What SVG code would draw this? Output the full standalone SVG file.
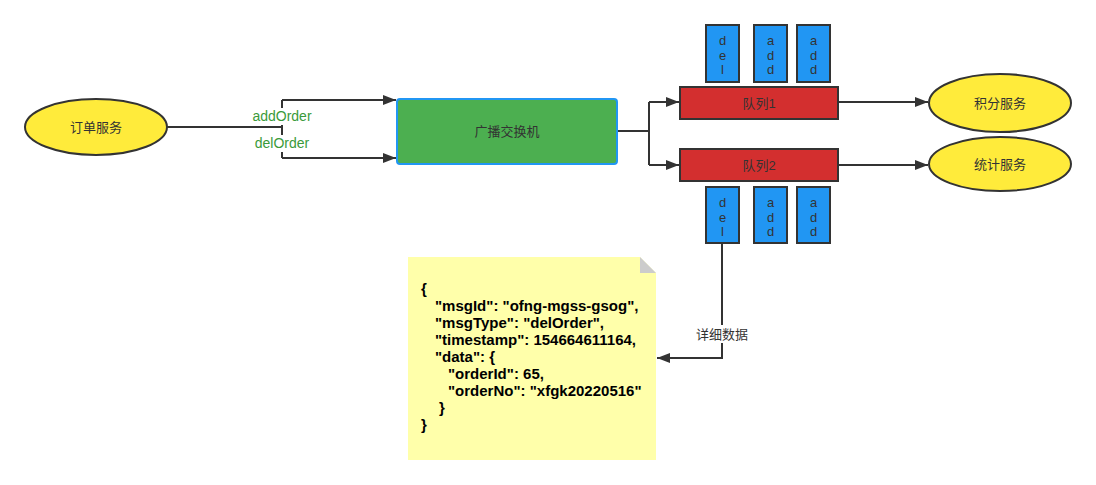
<svg xmlns="http://www.w3.org/2000/svg" width="1096" height="485" viewBox="0 0 1096 485">
<style>
.ell{fill:#ffeb3b;stroke:#333;stroke-width:2}
.q{fill:#d32f2f;stroke:#333;stroke-width:2}
.b{fill:#2196f3;stroke:#333;stroke-width:2}
.ln{fill:none;stroke:#333;stroke-width:2}
.t{font-family:"Liberation Sans","Noto Sans CJK SC",sans-serif;font-size:13px;fill:#333;text-anchor:middle;dominant-baseline:central}
.v{font-family:"Liberation Sans",sans-serif;font-size:13px;fill:#333;text-anchor:middle;dominant-baseline:central}
.g{font-family:"Liberation Sans",sans-serif;font-size:14px;fill:#3a9a3a;text-anchor:middle;dominant-baseline:central}
.j{font-family:"Liberation Sans",sans-serif;font-size:15px;font-weight:bold;fill:#000}
</style>
<defs>
<marker id="arr" viewBox="0 0 13 10" refX="13" refY="5" markerWidth="13" markerHeight="10" markerUnits="userSpaceOnUse" orient="auto">
<path d="M0,0 L13,5 L0,10 z" fill="#333"/>
</marker>
</defs>
<rect width="1096" height="485" fill="#fff"/>
<g id="connectors">
<path class="ln" d="M167,127 H282"/>
<path class="ln" d="M282,100 V158"/>
<path class="ln" d="M282,100 H396" marker-end="url(#arr)"/>
<path class="ln" d="M282,158 H396" marker-end="url(#arr)"/>
<path class="ln" d="M618,131 H649"/>
<path class="ln" d="M649,102 V165"/>
<path class="ln" d="M649,102 H679" marker-end="url(#arr)"/>
<path class="ln" d="M649,165 H679" marker-end="url(#arr)"/>
<path class="ln" d="M838,102 H928" marker-end="url(#arr)"/>
<path class="ln" d="M838,165 H928" marker-end="url(#arr)"/>
<path class="ln" d="M722,243 V358 H657" marker-end="url(#arr)"/>
<rect x="696" y="325" width="53" height="18" fill="#fff"/>
<text class="t" x="722" y="334">详细数据</text>
<rect x="251" y="108" width="62" height="17" fill="#fff"/>
<text class="g" x="282" y="116">addOrder</text>
<rect x="253" y="135" width="58" height="17" fill="#fff"/>
<text class="g" x="282" y="143">delOrder</text>
</g>
<g id="order">
<ellipse class="ell" cx="96" cy="127" rx="71" ry="28"/>
<text class="t" x="96" y="127">订单服务</text>
</g>
<g id="exchange">
<rect x="397" y="99" width="220" height="65" rx="3" fill="#4caf50" stroke="#2196f3" stroke-width="2"/>
<text class="t" x="507" y="131">广播交换机</text>
</g>
<g id="queue1">
<rect class="q" x="680" y="87" width="158" height="32"/>
<text class="t" x="759" y="103">队列1</text>
</g>
<g id="queue2">
<rect class="q" x="680" y="149" width="158" height="32"/>
<text class="t" x="759" y="165">队列2</text>
</g>
<g id="msg-top-1">
<rect class="b" x="706" y="25" width="33" height="57"/>
<text class="v" x="722.5" y="40">d</text><text class="v" x="722.5" y="55">e</text><text class="v" x="722.5" y="69">l</text>
</g>
<g id="msg-top-2">
<rect class="b" x="754" y="25" width="33" height="57"/>
<text class="v" x="770.5" y="40">a</text><text class="v" x="770.5" y="55">d</text><text class="v" x="770.5" y="69">d</text>
</g>
<g id="msg-top-3">
<rect class="b" x="797" y="25" width="33" height="57"/>
<text class="v" x="813.5" y="40">a</text><text class="v" x="813.5" y="55">d</text><text class="v" x="813.5" y="69">d</text>
</g>
<g id="msg-bot-1">
<rect class="b" x="706" y="187" width="33" height="56"/>
<text class="v" x="722.5" y="202">d</text><text class="v" x="722.5" y="217">e</text><text class="v" x="722.5" y="231">l</text>
</g>
<g id="msg-bot-2">
<rect class="b" x="754" y="187" width="33" height="56"/>
<text class="v" x="770.5" y="202">a</text><text class="v" x="770.5" y="217">d</text><text class="v" x="770.5" y="231">d</text>
</g>
<g id="msg-bot-3">
<rect class="b" x="797" y="187" width="33" height="56"/>
<text class="v" x="813.5" y="202">a</text><text class="v" x="813.5" y="217">d</text><text class="v" x="813.5" y="231">d</text>
</g>
<g id="points">
<ellipse class="ell" cx="1000" cy="103" rx="71" ry="29"/>
<text class="t" x="1000" y="103">积分服务</text>
</g>
<g id="stats">
<ellipse class="ell" cx="1000" cy="164" rx="71" ry="27"/>
<text class="t" x="1000" y="164">统计服务</text>
</g>
<g id="note">
<path d="M408,257 H640 L656,273 V460 H408 Z" fill="#ffffaa"/>
<path d="M640,257 L656,273 H640 Z" fill="#cccccc"/>
<text class="j" x="421" y="294">{</text>
<text class="j" x="435" y="311">"msgId": "ofng-mgss-gsog",</text>
<text class="j" x="435" y="328">"msgType": "delOrder",</text>
<text class="j" x="435" y="345">"timestamp": 154664611164,</text>
<text class="j" x="435" y="362">"data": {</text>
<text class="j" x="448" y="379">"orderId": 65,</text>
<text class="j" x="448" y="396">"orderNo": "xfgk20220516"</text>
<text class="j" x="439" y="413">}</text>
<text class="j" x="421" y="430">}</text>
</g>
</svg>
